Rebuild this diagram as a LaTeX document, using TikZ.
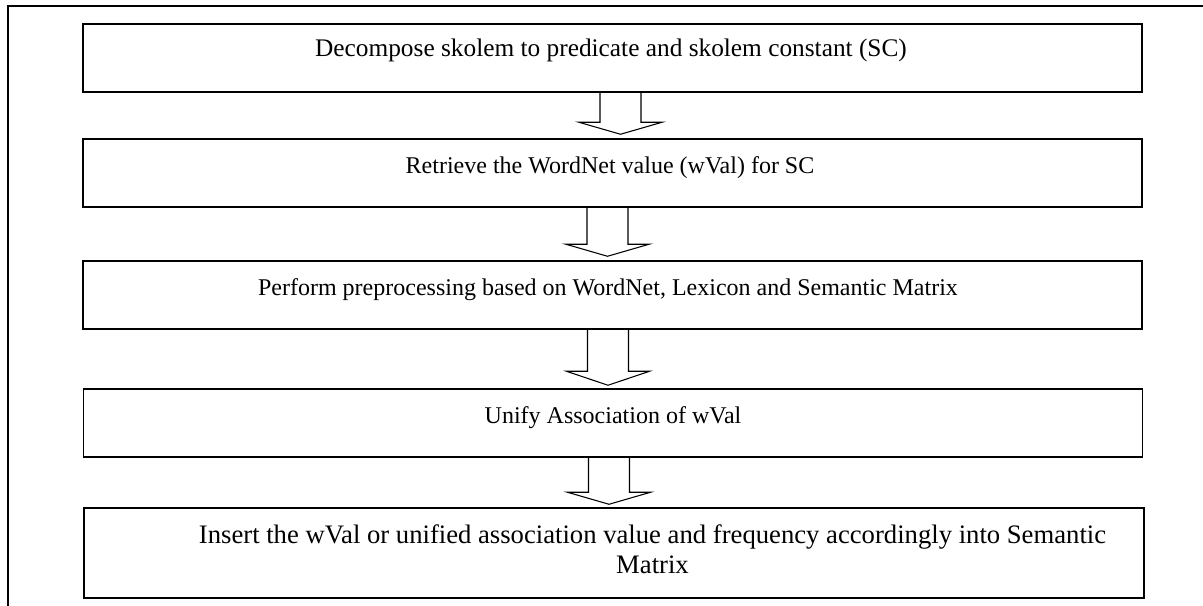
\documentclass[tikz,border=0pt]{standalone}
\usepackage{fontspec}
\setmainfont{Liberation Serif}
\usetikzlibrary{calc}
\begin{document}
\begin{tikzpicture}[x=0.75pt,y=-0.75pt,
		stage/.style={draw,rectangle,line width=1.1pt,minimum width=794.5pt,minimum height=51pt,inner sep=0pt},
		caption/.style={font=\fontsize{18}{21}\selectfont,align=center,inner sep=0pt,anchor=base},
		blockarrow/.style={draw,line width=0.8pt,line join=miter}]
		\useasboundingbox (0,0) rectangle (1203,606);
		\draw [line width=1.2pt] (1203,6) -- (8,6) -- (8,606);

		\node (b1) [stage] at (612.5,58) {};
		\node (t1) [caption,font=\fontsize{19}{22}\selectfont] at (611,57) {Decompose skolem to predicate and skolem constant (SC)};
		\node (b2) [stage] at (612.5,173) {};
		\node (t2) [caption] at (610,174) {Retrieve the WordNet value (wVal) for SC};
		\node (b3) [stage] at (612.5,295) {};
		\node (t3) [caption] at (608,295) {Perform preprocessing based on WordNet, Lexicon and Semantic Matrix};
		\node (b4) [stage] at (613,423) {};
		\node (t4) [caption] at (613,423) {Unify Association of wVal};
		\node (b5) [stage,minimum height=67.5pt,minimum width=795pt] at (614,553) {};
		\node (t5) [caption,anchor=center,font=\fontsize{20}{22.5}\selectfont] at (652.5,549) {Insert the wVal or unified association value and frequency accordingly into Semantic\\Matrix};

		\coordinate (tip1) at ($(b2.north)+(8,-4)$);
		\coordinate (tip2) at ($(b3.north)+(-5,-4)$);
		\coordinate (tip3) at ($(b4.north)+(-5,-3)$);
		\coordinate (tip4) at ($(b5.north)+(-5,-3)$);
		\draw [blockarrow] ($(tip1 |- b1.south)+(-20.5,0)$) -- ($(tip1)+(-20.5,-12)$) -- ($(tip1)+(-41.5,-12)$) -- (tip1) -- ($(tip1)+(41.5,-12)$) -- ($(tip1)+(20.5,-12)$) -- ($(tip1 |- b1.south)+(20.5,0)$);
		\draw [blockarrow] ($(tip2 |- b2.south)+(-20.5,0)$) -- ($(tip2)+(-20.5,-12)$) -- ($(tip2)+(-41.5,-12)$) -- (tip2) -- ($(tip2)+(41.5,-12)$) -- ($(tip2)+(20.5,-12)$) -- ($(tip2 |- b2.south)+(20.5,0)$);
		\draw [blockarrow] ($(tip3 |- b3.south)+(-20.5,0)$) -- ($(tip3)+(-20.5,-14)$) -- ($(tip3)+(-41.5,-14)$) -- (tip3) -- ($(tip3)+(41.5,-14)$) -- ($(tip3)+(20.5,-14)$) -- ($(tip3 |- b3.south)+(20.5,0)$);
		\draw [blockarrow] ($(tip4 |- b4.south)+(-20.5,0)$) -- ($(tip4)+(-20.5,-12)$) -- ($(tip4)+(-41.5,-12)$) -- (tip4) -- ($(tip4)+(41.5,-12)$) -- ($(tip4)+(20.5,-12)$) -- ($(tip4 |- b4.south)+(20.5,0)$);
	\end{tikzpicture}
\end{document}
